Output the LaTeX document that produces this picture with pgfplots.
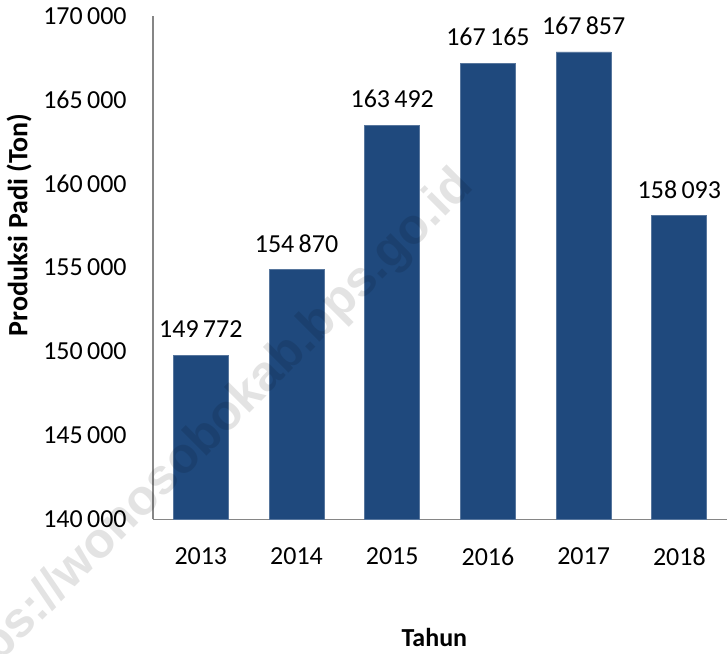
\documentclass[border=0pt]{standalone}
\usepackage{pgfplots}
\pgfplotsset{compat=1.18}
\usepackage{fontspec}
\setmainfont{Carlito}
\newfontfamily\wmfont{Liberation Sans}
\definecolor{barblue}{RGB}{31,73,125}
\definecolor{axisgray}{RGB}{134,134,134}
\begin{document}
\begin{tikzpicture}
\begin{axis}[
  scale only axis,
  width=287.5pt, height=252pt,
  xmin=-0.5, xmax=5.5,
  ymin=140000, ymax=170000,
  ytick={140000,145000,150000,155000,160000,165000,170000},
  yticklabels={140\,000,145\,000,150\,000,155\,000,160\,000,165\,000,170\,000},
  xtick={0,1,2,3,4,5},
  xticklabels={2013,2014,2015,2016,2017,2018},
  scaled y ticks=false,
  axis x line*=bottom, axis y line*=left,
  axis line style={axisgray, line width=0.8pt, -},
  major tick length=0pt,
  tick label style={font=\fontsize{13}{15}\selectfont, inner sep=0pt},
  xticklabel style={anchor=north, yshift=-14pt},
  yticklabel style={anchor=east, xshift=-13pt},
  xlabel={\textbf{Tahun}},
  ylabel={\textbf{Produksi Padi (Ton)}},
  every axis x label/.style={at={([yshift=-59pt]axis description cs:0.49,0)}, anchor=center, font=\fontsize{13}{15}\selectfont},
  every axis y label/.style={at={([xshift=-67pt]axis description cs:0,0.585)}, anchor=center, rotate=90, font=\fontsize{14}{16}\selectfont},
  ybar, bar width=27.5pt,
  point meta=explicit symbolic,
  nodes near coords,
  every node near coord/.append style={font=\fontsize{13}{15}\selectfont, inner sep=0pt, anchor=south, yshift=8.5pt, text=black},
  clip=false,
]
\addplot[fill=barblue, draw=barblue!75!white, line width=0.4pt] coordinates {
  (0,149772) [149\,772]
  (1,154870) [154\,870]
  (2,163492) [163\,492]
  (3,167165) [167\,165]
  (4,167857) [167\,857]
  (5,158093) [158\,093]
};
\path ([yshift=8pt]rel axis cs:0,1) coordinate (topmargin);
\path ([yshift=-66pt]rel axis cs:0.5,0) coordinate (bottommargin);
\node[overlay, rotate=45, text=black, opacity=0.11, font=\wmfont\bfseries\fontsize{25}{28}\selectfont]
  at ([xshift=26pt, yshift=40pt]rel axis cs:0,0) {https://wonosobokab.bps.go.id};
\end{axis}
\end{tikzpicture}
\end{document}
